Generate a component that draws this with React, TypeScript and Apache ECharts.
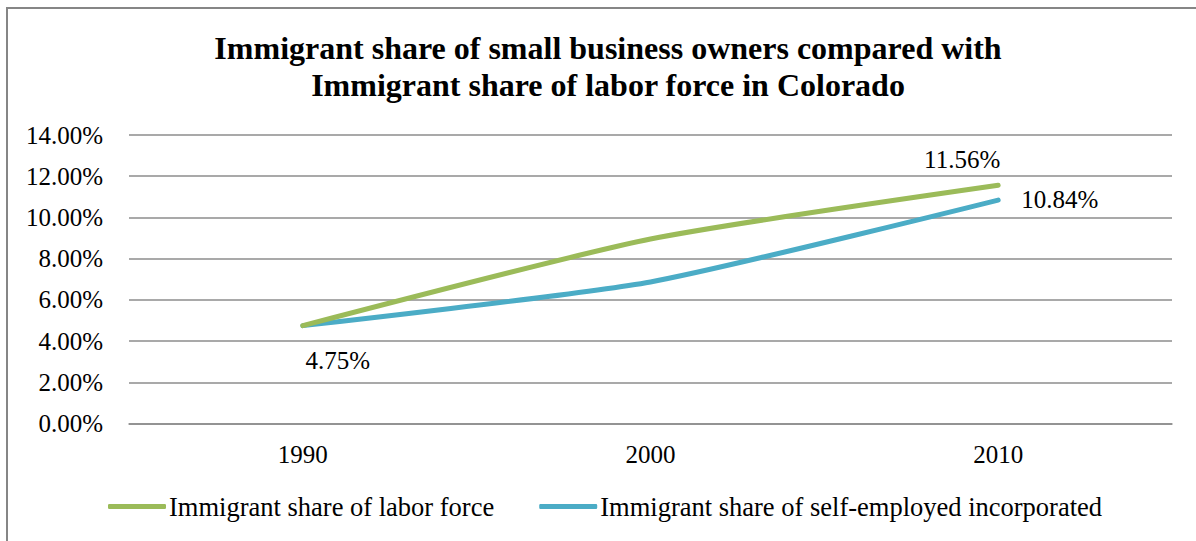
import React, { useEffect, useRef } from "react";
import * as echarts from "echarts";

const years = ["1990", "2000", "2010"];
const laborForce = [4.75, 8.95, 11.56];
const selfEmployed = [4.75, 6.87, 10.84];
const seriesNames = [
  "Immigrant share of labor force",
  "Immigrant share of self-employed incorporated",
];
const titleLines = [
  "Immigrant share of small business owners compared with",
  "Immigrant share of labor force in Colorado",
];

const FONT = "'Liberation Serif', 'Times New Roman', serif";

export default function App() {
  const ref = useRef<HTMLDivElement>(null);
  useEffect(() => {
    if (!ref.current) return;
    const chart = echarts.init(ref.current, null, { renderer: "svg" });
    const labelBase = {
      show: true,
      fontFamily: FONT,
      fontSize: 25,
      color: "#000",
      formatter: (p: any) => Number(p.value).toFixed(2) + "%",
    };
    const greenData = laborForce.map((v, i) =>
      i === 2
        ? { value: v, label: { ...labelBase, position: "top", offset: [-36, -8] } }
        : { value: v }
    );
    const blueData = selfEmployed.map((v, i) => {
      if (i === 0) return { value: v, label: { ...labelBase, position: "bottom", offset: [35, 17] } };
      if (i === 2) return { value: v, label: { ...labelBase, position: "right", offset: [18, -1] } };
      return { value: v };
    });
    chart.setOption({
      animation: false,
      backgroundColor: "#fff",
      textStyle: { fontFamily: FONT },
      title: {
        text: titleLines.join("\n"),
        left: 603,
        textAlign: "center",
        top: 24,
        textStyle: {
          fontFamily: FONT,
          fontSize: 32,
          fontWeight: "bold",
          lineHeight: 37,
          color: "#000",
        },
      },
      graphic: [
        {
          type: "rect",
          shape: { x: 7, y: 8, width: 1400, height: 800 },
          style: { fill: "none", stroke: "#868686", lineWidth: 2 },
          silent: true,
        },
      ],
      legend: {
        left: 103,
        top: 488,
        itemWidth: 58,
        itemHeight: 5,
        itemGap: 45,
        icon: "roundRect",
        textStyle: { fontFamily: FONT, fontSize: 26.5, color: "#000", padding: [0, 0, 0, -2] },
        data: seriesNames,
      },
      grid: { left: 129, right: 24, top: 135, height: 288.5, containLabel: false },
      xAxis: {
        type: "category",
        data: years,
        boundaryGap: true,
        axisLine: { show: true, lineStyle: { color: "#8c8c8c", width: 1.5 } },
        axisTick: { show: false },
        axisLabel: { fontFamily: FONT, fontSize: 25, color: "#000", margin: 18 },
      },
      yAxis: {
        type: "value",
        min: 0,
        max: 14,
        interval: 2,
        axisLine: { show: false },
        axisTick: { show: false },
        splitLine: { lineStyle: { color: "#8c8c8c", width: 1.5 } },
        axisLabel: {
          fontFamily: FONT,
          fontSize: 25,
          color: "#000",
          margin: 26,
          formatter: (v: number) => v.toFixed(2) + "%",
        },
      },
      series: [
        {
          name: seriesNames[0],
          type: "line",
          data: greenData,
          smooth: 0.2,
          showSymbol: true,
          symbol: "circle",
          symbolSize: 0.01,
          label: { show: false },
          lineStyle: { color: "#9BBB59", width: 5, cap: "round" },
          itemStyle: { color: "#9BBB59" },
          z: 3,
        },
        {
          name: seriesNames[1],
          type: "line",
          data: blueData,
          smooth: 0.2,
          showSymbol: true,
          symbol: "circle",
          symbolSize: 0.01,
          label: { show: false },
          lineStyle: { color: "#4BACC6", width: 5, cap: "round" },
          itemStyle: { color: "#4BACC6" },
          z: 2,
        },
      ],
    });
    return () => chart.dispose();
  }, []);
  return (
    <div
      ref={ref}
      style={{ position: "fixed", left: 0, top: 0, width: 1196, height: 541 }}
    />
  );
}
